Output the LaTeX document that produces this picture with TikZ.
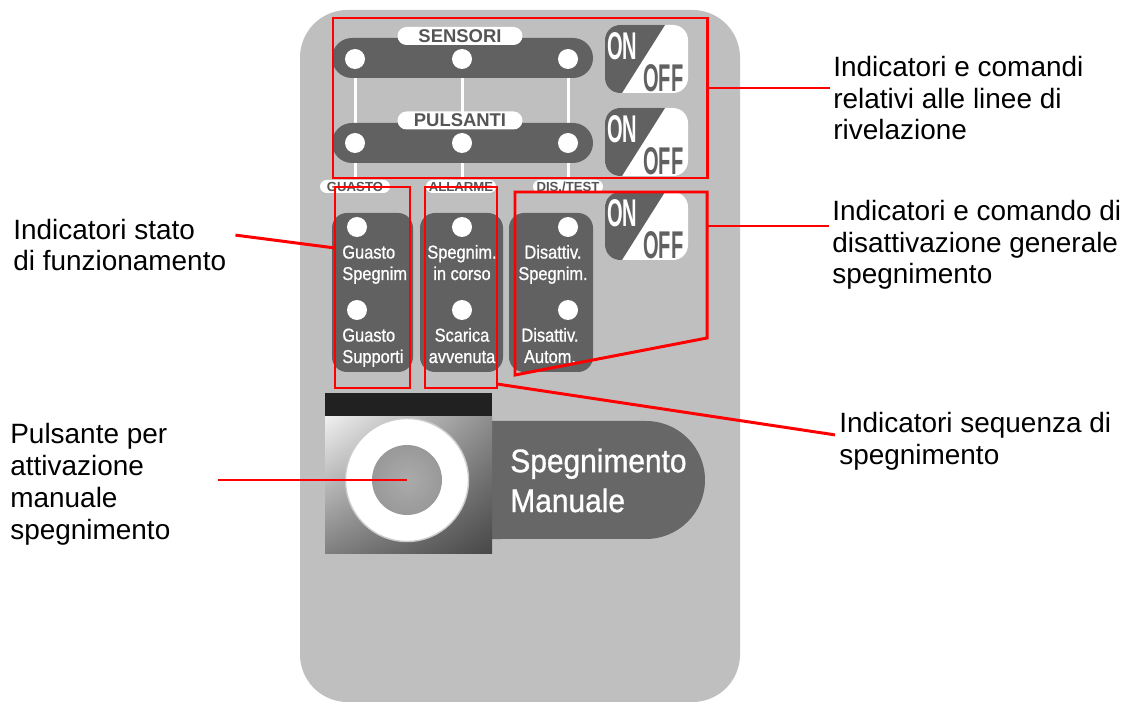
\documentclass[tikz,border=0pt]{standalone}
\usepackage{fontspec}
\setmainfont{Liberation Sans}
\newfontfamily\colfont[FakeStretch=0.88,FakeBold=0.8]{Liberation Sans}
\newfontfamily\bigfont[FakeStretch=0.92,FakeBold=1]{Liberation Sans}
\newfontfamily\swfont[FakeStretch=0.52]{Liberation Sans Bold}
\usetikzlibrary{positioning,calc,shadings}
\definecolor{panelgray}{HTML}{BFBFBF}
\definecolor{bargray}{HTML}{616161}
\definecolor{pillgray}{HTML}{676767}
\definecolor{tabgray}{HTML}{555555}
\definecolor{markred}{HTML}{FF0000}

\begin{document}
\begin{tikzpicture}[x=0.02cm,y=-0.02cm,
  note/.style={anchor=base west,align=left,inner sep=0pt,font=\fontsize{15.9}{18.1}\selectfont},
  tab/.style={fill=white,rounded corners=0.18cm,inner sep=0pt,minimum width=2.5cm,minimum height=0.36cm,text=tabgray,font=\fontsize{10.5}{10.5}\selectfont\bfseries},
  smalltab/.style={fill=white,rounded corners=0.13cm,inner sep=0pt,minimum width=1.4cm,minimum height=0.26cm,text=tabgray,font=\fontsize{7.5}{7.5}\selectfont\bfseries},
  led/.style={circle,fill=white,inner sep=0pt,minimum size=0.4cm},
  coltext/.style={anchor=base,align=center,inner sep=0pt,text=white,font=\colfont\fontsize{10.6}{12.2}\selectfont},
  redbox/.style={draw=markred,line width=1.7pt},
  conn/.style={draw=markred,line width=1.7pt}
]
\useasboundingbox (0,0) rectangle (1146,702);

% panel
\fill[panelgray,rounded corners=0.95cm] (300,10) rectangle (740,702);

% line indicators
\foreach \x in {355,462,568}
  \draw[white,line width=0.06cm] (\x,70) -- (\x,178);
\fill[bargray,rounded corners=0.4cm] (332,38) rectangle (593,78);
\fill[bargray,rounded corners=0.4cm] (332,123) rectangle (593,163);
\foreach \x [count=\i] in {355,462,568} {
  \node[led] (s\i) at (\x,59) {};
  \node[led] (p\i) at (\x,143) {};
}
\node[tab] (sensori) at (460,36) {SENSORI};
\node[tab] (pulsanti) at (460,120.5) {PULSANTI};

% on/off switches
\foreach \t [count=\i] in {25,108,192} {
  \fill[white,rounded corners=0.3cm] (605,\t) rectangle (688,\t+68);
  \begin{scope}
    \clip[rounded corners=0.3cm] (605,\t) rectangle (688,\t+68);
    \fill[bargray] (605,\t) -- (665,\t) -- (622,\t+68) -- (605,\t+68) -- cycle;
  \end{scope}
  \node[anchor=base west,inner sep=0pt,text=white,font=\swfont\fontsize{22}{22}\selectfont] (on\i) at (607,\t+35) {ON};
  \node[anchor=base west,inner sep=0pt,text=bargray,font=\swfont\fontsize{22}{22}\selectfont] (off\i) at (643,\t+67) {OFF};
}

% status columns
\node[smalltab] (guasto) at (355,186.5) {GUASTO};
\node[smalltab] (allarme) at (461,186.5) {ALLARME};
\node[smalltab] (distest) at (568,186.5) {DIS./TEST};
\fill[bargray,rounded corners=0.3cm] (332,213) rectangle (413,372);
\fill[bargray,rounded corners=0.3cm] (420,213) rectangle (503,372);
\fill[bargray,rounded corners=0.3cm] (509,213) rectangle (593,372);
\foreach \x [count=\i] in {357,462,568} {
  \node[led] (a\i) at (\x,227) {};
  \node[led] (b\i) at (\x,310) {};
}
\node[coltext,anchor=base west,align=left] (g1) at (342,280) {Guasto\\Spegnim};
\node[coltext,anchor=base west,align=left] (g2) at (342,363) {Guasto\\Supporti};
\node[coltext] (q1) at (462,280) {Spegnim.\\in corso};
\node[coltext] (q2) at (462,363) {Scarica\\avvenuta};
\node[coltext] (d1) at (553,280) {Disattiv.\\Spegnim.};
\node[coltext] (d2) at (550,363) {Disattiv.\\Autom.};

% manual button
\fill[pillgray] (492,421) -- (646,421) arc[start angle=90,end angle=-90,radius=1.18cm] -- (492,539) -- cycle;
\node[anchor=base west,inner sep=0pt,align=left,text=white,font=\bigfont\fontsize{18.5}{22.7}\selectfont] (manual) at (510,512) {Spegnimento\\Manuale};
\fill[black!87] (325,393) rectangle (492,417);
\shade[upper left=black!6,upper right=black!45,lower left=black!50,lower right=black!72] (325,417) rectangle (492,553);
\node[circle,fill=white,draw=black!20,line width=0.8pt,minimum size=2.46cm,inner sep=0pt] (ring) at (407,480) {};
\shade[inner color=black!33,outer color=black!40] (ring.center) circle[radius=0.7cm];

% red frames
\draw[redbox] (333,18) rectangle (707,178);
\draw[redbox] (335,187) rectangle (410,388);
\draw[redbox] (425,187) rectangle (497,388);
\draw[redbox] (515,192) -- (707,192) -- (707,338) -- (515,375) -- cycle;
\coordinate (rb1e) at (707,88);
\coordinate (rb4e) at (707,226);
\coordinate (rb2w) at (335,248);
\coordinate (rb3s) at (497,384);

% callouts
\node[note] (lab1) at (833,140) {Indicatori e comandi\\relativi alle linee di\\rivelazione};
\node[note] (lab2) at (832,284) {Indicatori e comando di\\disattivazione generale\\spegnimento};
\node[note] (lab3) at (839,464) {Indicatori sequenza di\\spegnimento};
\node[note] (lab4) at (13,271) {Indicatori stato\\di funzionamento};
\node[note] (lab5) at (10,539) {Pulsante per\\attivazione\\manuale\\spegnimento};

\draw[conn] (rb1e) -- ($(rb1e -| lab1.west)+(-3,0)$);
\draw[conn] (rb4e) -- ($(rb4e -| lab2.west)+(-3,0)$);
\draw[conn] (rb3s) -- ($(lab3.west)+(-4,-6)$);
\draw[conn] (rb2w) -- ($(lab4.east)+(9,-10)$);
\draw[conn] (ring.center) -- ($(ring.center -| lab5.east)+(47,0)$);
\end{tikzpicture}
\end{document}
